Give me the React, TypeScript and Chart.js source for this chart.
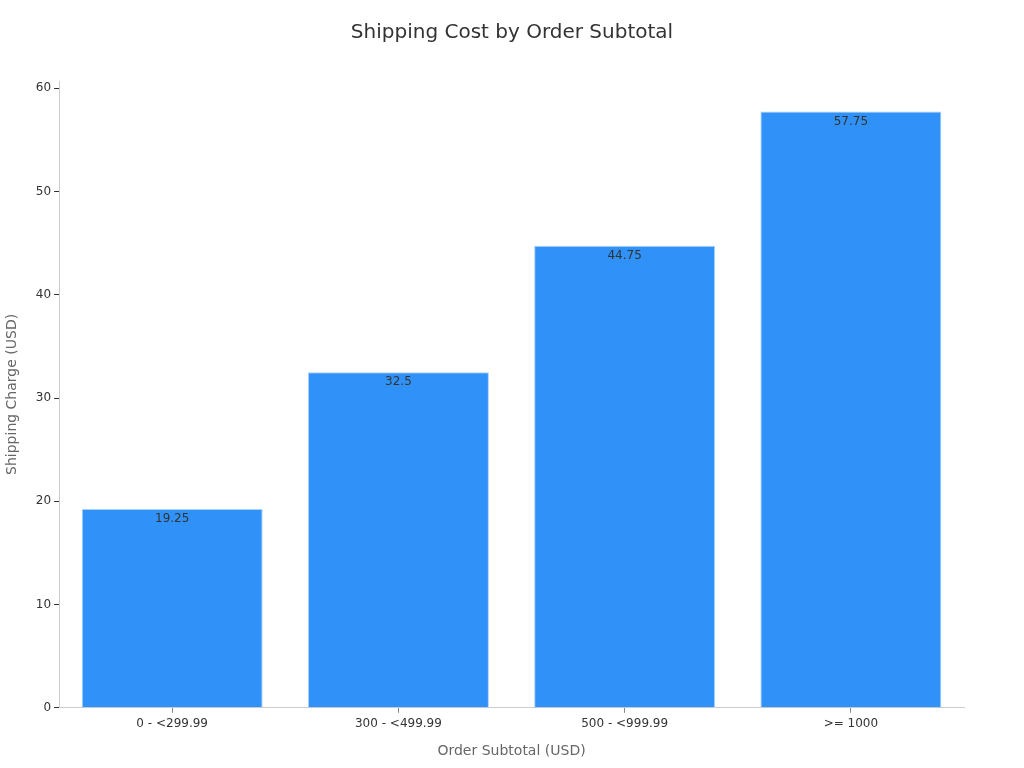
import { useEffect, useRef } from 'react';
import { Chart, registerables, type Plugin } from 'chart.js';

Chart.register(...registerables);

const categories = ['0 - <299.99', '300 - <499.99', '500 - <999.99', '>= 1000'];
const shippingCharges = [19.25, 32.5, 44.75, 57.75];
const yTicks = [0, 10, 20, 30, 40, 50, 60];
const chartTitle = 'Shipping Cost by Order Subtotal';

const FONT = "'DejaVu Sans', sans-serif";

// draws the value just inside the top of each bar
const barValueLabels: Plugin<'bar'> = {
  id: 'barValueLabels',
  afterDatasetsDraw(chart) {
    const ctx = chart.ctx;
    const meta = chart.getDatasetMeta(0);
    ctx.save();
    ctx.font = `12px ${FONT}`;
    ctx.fillStyle = '#333333';
    ctx.textAlign = 'center';
    ctx.textBaseline = 'middle';
    meta.data.forEach((bar, i) => {
      const { x, y } = bar.getProps(['x', 'y'], true);
      ctx.fillText(String(shippingCharges[i]), x, y + 10);
    });
    ctx.restore();
  },
};

// title centred on the whole canvas, not on the padded layout box
const centredTitle: Plugin<'bar'> = {
  id: 'centredTitle',
  afterDraw(chart) {
    const ctx = chart.ctx;
    ctx.save();
    ctx.font = `20px ${FONT}`;
    ctx.fillStyle = '#333333';
    ctx.textAlign = 'center';
    ctx.textBaseline = 'middle';
    ctx.fillText(chartTitle, chart.width / 2, 33);
    ctx.restore();
  },
};

export default function App() {
  const canvasRef = useRef<HTMLCanvasElement>(null);
  const chartRef = useRef<Chart | null>(null);

  useEffect(() => {
    if (!canvasRef.current) return;
    if (chartRef.current) chartRef.current.destroy();

    chartRef.current = new Chart(canvasRef.current, {
      type: 'bar',
      data: {
        labels: categories,
        datasets: [
          {
            data: shippingCharges,
            backgroundColor: '#3092f9',
            borderColor: '#a9d2fb',
            borderWidth: 1,
            barPercentage: 0.8,
            categoryPercentage: 1,
          },
        ],
      },
      options: {
        responsive: true,
        maintainAspectRatio: false,
        animation: false,
        layout: { padding: { top: 81, right: 60, bottom: 4, left: 0 } },
        plugins: {
          legend: { display: false },
          tooltip: { enabled: false },
          title: { display: false },
        },
        scales: {
          x: {
            grid: {
              drawOnChartArea: false,
              drawTicks: true,
              tickLength: 5,
              color: '#888888',
              offset: false,
            },
            border: { color: '#cccccc' },
            ticks: { color: '#333333', font: { family: FONT, size: 12 }, padding: 4 },
            title: {
              display: true,
              text: 'Order Subtotal (USD)',
              color: '#666666',
              font: { family: FONT, size: 14 },
              padding: { top: 8 },
            },
          },
          y: {
            min: 0,
            max: 60.7,
            grid: { drawOnChartArea: false, drawTicks: true, tickLength: 5, color: '#333333' },
            border: { color: '#cccccc' },
            afterBuildTicks: (axis) => {
              axis.ticks = yTicks.map((v) => ({ value: v }));
            },
            ticks: { color: '#333333', font: { family: FONT, size: 12 }, padding: 3 },
            title: {
              display: true,
              text: 'Shipping Charge (USD)',
              color: '#666666',
              font: { family: FONT, size: 14 },
              padding: { bottom: 12 },
            },
          },
        },
      },
      plugins: [barValueLabels, centredTitle],
    });

    return () => {
      if (chartRef.current) {
        chartRef.current.destroy();
        chartRef.current = null;
      }
    };
  }, []);

  return (
    <div style={{ position: 'fixed', left: 0, top: 0, width: 1024, height: 768, background: '#ffffff' }}>
      <canvas ref={canvasRef} />
    </div>
  );
}
